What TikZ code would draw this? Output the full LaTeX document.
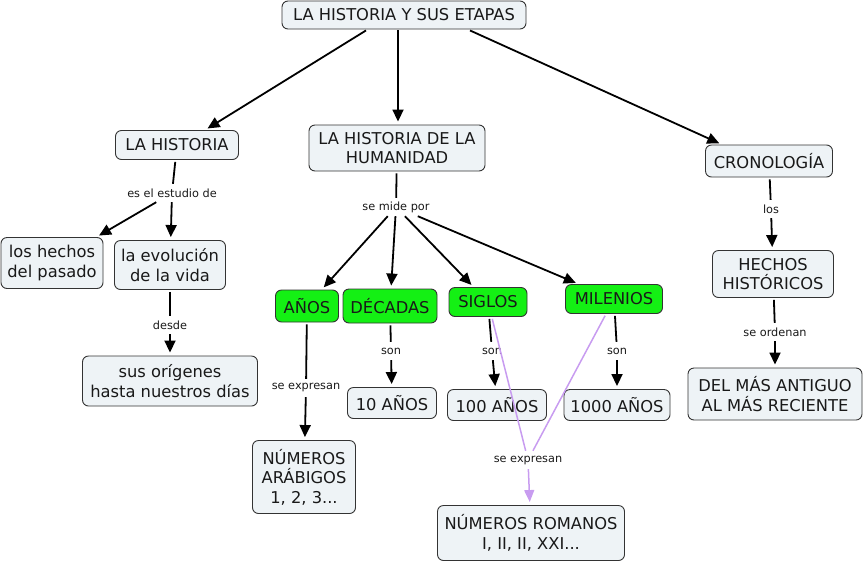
\documentclass[tikz,border=0pt]{standalone}
\usepackage{fontspec}
\setmainfont{DejaVu Sans}
\usetikzlibrary{arrows.meta}
\definecolor{cfill}{HTML}{EEF3F6}
\definecolor{gfill}{HTML}{14F014}
\definecolor{cborder}{HTML}{333333}
\definecolor{lav}{HTML}{C89CF0}
\tikzset{
  concept/.style={draw=cborder, line width=0.9pt, rounded corners=6pt, fill=cfill,
    align=center, inner sep=0pt, font=\fontsize{16.3}{19.5}\selectfont, text=black!90},
  gconcept/.style={concept, fill=gfill},
  lbl/.style={inner sep=0pt, minimum height=18pt, font=\fontsize{11.3}{13}\selectfont, text=black!90},
  conn/.style={line width=1.8pt, black},
  arr/.style={conn, -{Triangle[length=12pt,width=11pt]}, shorten >=3pt},
  pconn/.style={line width=1.5pt, lav},
  parr/.style={pconn, -{Triangle[length=12pt,width=10pt]}, shorten >=3pt},
}
\begin{document}
\begin{tikzpicture}[x=1pt,y=-1pt]
\useasboundingbox (0,0) rectangle (866,563);
% concepts
\node[concept, minimum width=244pt, minimum height=28pt] (top) at (404,15) {LA HISTORIA Y SUS ETAPAS};
\node[concept, minimum width=123pt, minimum height=29pt] (lahist) at (177,145) {LA HISTORIA};
\node[concept, minimum width=176pt, minimum height=46pt] (human) at (397,148) {LA HISTORIA DE LA\\HUMANIDAD};
\node[concept, minimum width=127pt, minimum height=32pt] (crono) at (769,161) {CRONOLOGÍA};
\node[concept, minimum width=102pt, minimum height=51pt] (hechos) at (52,263) {los hechos\\del pasado};
\node[concept, minimum width=111pt, minimum height=49pt] (evol) at (170,265) {la evolución\\de la vida};
\node[concept, minimum width=175pt, minimum height=50pt] (orig) at (170,381) {sus orígenes\\hasta nuestros días};
\node[gconcept, minimum width=63pt, minimum height=32pt] (anos) at (307,306) {AÑOS};
\node[gconcept, minimum width=94pt, minimum height=34pt] (decadas) at (390,306) {DÉCADAS};
\node[gconcept, minimum width=78pt, minimum height=29pt] (siglos) at (488,302) {SIGLOS};
\node[gconcept, minimum width=97pt, minimum height=29pt] (milenios) at (614,299) {MILENIOS};
\node[concept, minimum width=89pt, minimum height=31pt] (d10) at (392,403) {10 AÑOS};
\node[concept, minimum width=99pt, minimum height=31pt] (d100) at (497,405) {100 AÑOS};
\node[concept, minimum width=106pt, minimum height=31pt] (d1000) at (617,405) {1000 AÑOS};
\node[concept, minimum width=103pt, minimum height=73pt] (arab) at (304,477) {NÚMEROS\\ARÁBIGOS\\1, 2, 3...};
\node[concept, minimum width=187pt, minimum height=55pt] (roman) at (531,533) {NÚMEROS ROMANOS\\I, II, II, XXI...};
\node[concept, minimum width=121pt, minimum height=47pt] (hh) at (773,274) {HECHOS\\HISTÓRICOS};
\node[concept, minimum width=174pt, minimum height=52pt] (del) at (775,394) {DEL MÁS ANTIGUO\\AL MÁS RECIENTE};
% linking phrases
\node[lbl] (l1) at (172,193) {es el estudio de};
\node[lbl] (l2) at (396,207) {se mide por};
\node[lbl] (l3) at (170,325) {desde};
\node[lbl] (l4) at (306,388) {se expresan};
\node[lbl] (l5) at (391,351) {son};
\node[lbl] (l6) at (492,351) {son};
\node[lbl] (l7) at (617,351) {son};
\node[lbl] (l8) at (528,460) {se expresan};
\node[lbl] (l9) at (771,209) {los};
\node[lbl] (l10) at (775,332) {se ordenan};
% top connectors
\draw[arr] ([xshift=-38pt,yshift=-1pt]top.south) -- ([xshift=28pt]lahist.north);
\draw[arr] ([xshift=-6pt,yshift=-1pt]top.south) -- ([xshift=1pt]human.north);
\draw[arr] ([xshift=66pt,yshift=-1pt]top.south) -- ([xshift=-47pt]crono.north);
% LA HISTORIA
\draw[conn, shorten <=2pt] (lahist) -- (l1);
\draw[arr] (l1) -- (hechos);
\draw[arr] (l1) -- (evol);
\draw[conn, shorten <=2pt] (evol) -- (l3);
\draw[arr] (l3) -- (orig);
% HUMANIDAD
\draw[conn, shorten <=2pt] (human) -- (l2);
\draw[arr] (l2) -- (anos);
\draw[arr] (l2) -- (decadas);
\draw[arr] (l2) -- (siglos);
\draw[arr] (l2) -- (milenios);
\draw[conn, shorten <=2pt] (anos) -- (l4);
\draw[arr] (l4) -- (arab);
\draw[conn, shorten <=2pt] (decadas) -- (l5);
\draw[arr] (l5) -- (d10);
\draw[conn, shorten <=2pt] (siglos) -- (l6);
\draw[arr] (l6) -- (d100);
\draw[conn, shorten <=2pt] (milenios) -- (l7);
\draw[arr] (l7) -- (d1000);
\draw[pconn, shorten <=2pt] (siglos) -- (l8);
\draw[pconn, shorten <=2pt] (milenios) -- (l8);
\draw[parr] (l8) -- (roman);
% CRONOLOGIA
\draw[conn, shorten <=2pt] (crono) -- (l9);
\draw[arr] (l9) -- (hh);
\draw[conn, shorten <=2pt] (hh) -- (l10);
\draw[arr] (l10) -- (del);
\end{tikzpicture}
\end{document}
